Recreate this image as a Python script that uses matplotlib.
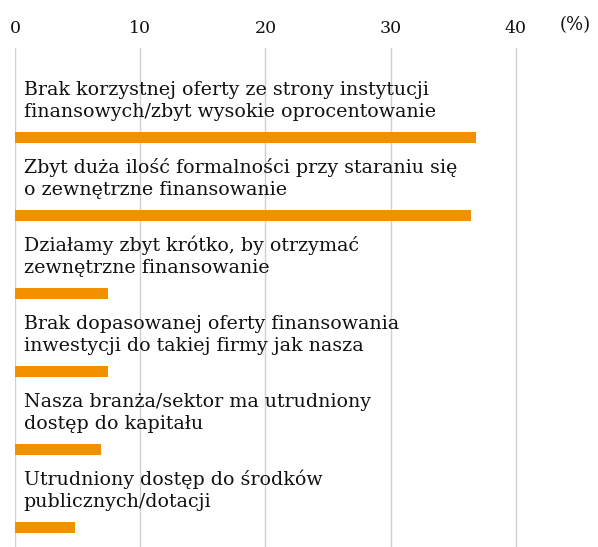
#!/usr/bin/env python3

import numpy as np
from matplotlib import pyplot as plt

# Data
Categories = [
    "Brak korzystnej oferty ze strony instytucji\nfinansowych/zbyt wysokie oprocentowanie",
    "Zbyt duża ilość formalności przy staraniu się\no zewnętrzne finansowanie",
    "Działamy zbyt krótko, by otrzymać\nzewnętrzne finansowanie",
    "Brak dopasowanej oferty finansowania\ninwestycji do takiej firmy jak nasza",
    "Nasza branża/sektor ma utrudniony\ndostęp do kapitału",
    "Utrudniony dostęp do środków\npublicznych/dotacji",
]
Values = [36.8, 36.4, 7.4, 7.4, 6.9, 4.8]
Ticks = [0, 10, 20, 30, 40]

# Plot settings
Color = '#F29100'
GridColor = '#d0d0d0'
plt.rcParams['font.family'] = ['DejaVu Serif']

W, H = 598, 547
fig = plt.figure(figsize=(W / 100, H / 100), dpi=100)
ax = fig.add_axes([15 / W, 0, (591 - 15) / W, (H - 48) / H])

Pos = np.arange(len(Categories))
ax.barh(Pos, Values, height=0.15, color=Color, zorder=2)

for i, Label in enumerate(Categories):
    ax.text(0.7, i - 0.21, Label, ha='left', va='bottom', fontsize=13.7,
            color='#111111', linespacing=1.3, zorder=3)

ax.set_xlim(0, 46)
ax.set_ylim(5.25, -1.147)
ax.set_xticks(Ticks)
ax.set_yticks([])
ax.xaxis.tick_top()
ax.tick_params(axis='x', length=0, pad=8, labelsize=12.5, colors='#111111')
ax.grid(axis='x', color=GridColor, linewidth=1, zorder=0)
for s in ax.spines.values():
    s.set_visible(False)

fig.text(575 / W, 1 - 25 / H, '(%)', ha='center', va='center', fontsize=13, color='#111111')

fig.savefig('out.png', dpi=100)
